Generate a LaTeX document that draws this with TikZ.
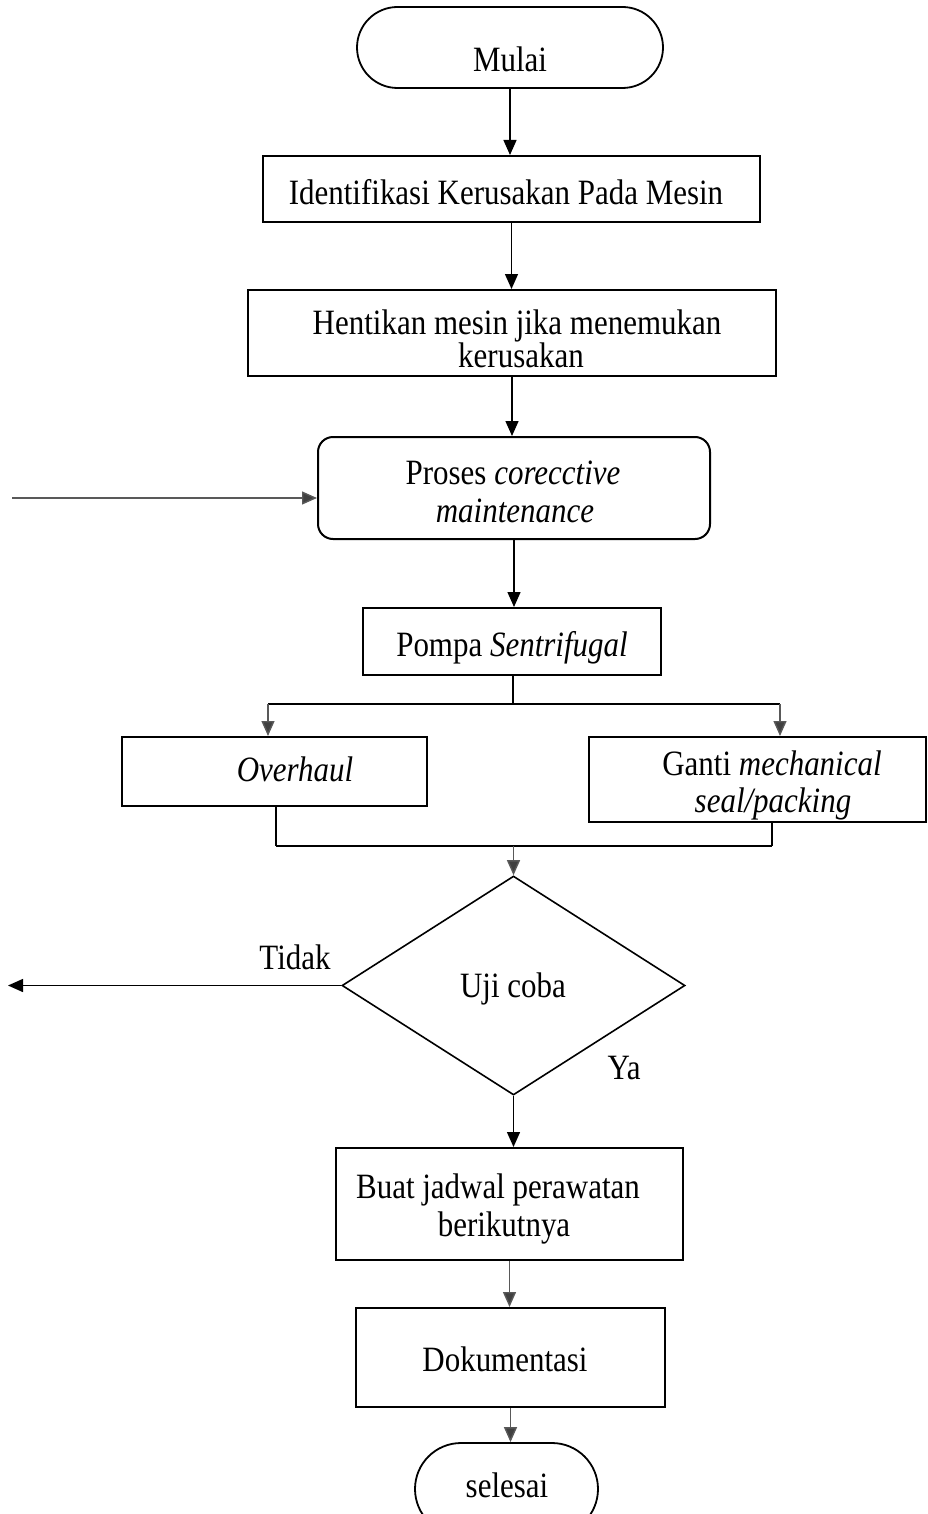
\documentclass[tikz,border=0pt]{standalone}
\usepackage{fontspec}
\setmainfont{Liberation Serif}[FakeStretch=0.87]
\usetikzlibrary{arrows.meta,shapes.geometric}
\begin{document}
\begin{tikzpicture}[x=1pt,y=-1pt,
  every node/.style={font=\fontsize{35.6}{38}\selectfont, inner sep=0pt},
  txt/.style={anchor=base},
  box/.style={draw, line width=2pt, rectangle},
  term/.style={draw, line width=1.8pt, rectangle},
  conn/.style={line width=1.4pt, -{Triangle[length=15pt,width=13pt]}},
  gconn/.style={conn, draw=black!65, -{Triangle[length=15pt,width=13pt,fill=black!75]}},
  bar/.style={line width=2.6pt},
  thin/.style={line width=1.2pt}]
\useasboundingbox (0,0) rectangle (928,1514);
\clip (0,0) rectangle (928,1514);

% shapes
\node[term, rounded corners=40.5pt, minimum width=306pt, minimum height=81pt] (mulai) at (510,47.5) {};
\node[box, minimum width=497pt, minimum height=66pt] (ident) at (511.5,189) {};
\node[box, minimum width=528pt, minimum height=86pt] (henti) at (512,333) {};
\node[box, rounded corners=15pt, minimum width=392pt, minimum height=102pt] (proses) at (514,488) {};
\node[box, minimum width=298pt, minimum height=67pt] (pompa) at (512,641.5) {};
\node[box, minimum width=305pt, minimum height=69pt] (over) at (274.5,771.5) {};
\node[box, minimum width=337pt, minimum height=85pt] (ganti) at (757.5,779.5) {};
\node[draw, line width=1.6pt, diamond, aspect=1.57, minimum width=343pt, minimum height=219pt] (uji) at (513.5,985.5) {};
\node[box, minimum width=347pt, minimum height=112pt] (buat) at (509.5,1204) {};
\node[box, minimum width=309pt, minimum height=99pt] (doku) at (510.5,1357.5) {};
\node[term, rounded corners=46pt, minimum width=183pt, minimum height=92pt] (selesai) at (506.5,1489) {};

% texts
\node[txt] (tmulai) at (510,72) {Mulai};
\node[txt] (tident) at (506,205) {Identifikasi Kerusakan Pada Mesin};
\node[txt] (thenti1) at (517,334) {Hentikan mesin jika menemukan};
\node[txt] (thenti2) at (521,367) {kerusakan};
\node[txt] (tproses1) at (513,484) {Proses \textit{corecctive}};
\node[txt] (tproses2) at (515,522) {\textit{maintenance}};
\node[txt] (tpompa) at (512,656) {Pompa \textit{Sentrifugal}};
\node[txt] (tover) at (295,781) {\textit{Overhaul}};
\node[txt] (tganti1) at (772,775) {Ganti \textit{mechanical}};
\node[txt] (tganti2) at (773,812) {\textit{seal/packing}};
\node[txt] (tuji) at (513,997) {Uji coba};
\node[txt] (tidak) at (295,969) {Tidak};
\node[txt] (ya) at (624,1079) {Ya};
\node[txt] (tbuat1) at (498,1198) {Buat jadwal perawatan};
\node[txt] (tbuat2) at (504,1236) {berikutnya};
\node[txt] (tdoku) at (505,1371) {Dokumentasi};
\node[txt] (tselesai) at (507,1497) {selesai};

% connectors
\draw[conn] (mulai.south) -- (mulai.south |- ident.north);
\draw[conn] (ident.south) -- (ident.south |- henti.north);
\draw[conn] (henti.south) -- (henti.south |- proses.north);
\draw[conn] (proses.south) -- (proses.south |- pompa.north);

\coordinate (loopin) at (12,498);
\draw[gconn] (loopin) -- (loopin -| proses.west);

% split to the two repair options
\coordinate (split) at (513,704);
\coordinate (splitL) at (268,704);
\coordinate (splitR) at (780,704);
\draw[thin] (split |- pompa.south) -- (split);
\draw[bar] (splitL) -- (splitR);
\draw[gconn] (splitL) -- (splitL |- over.north);
\draw[gconn] (splitR) -- (splitR |- ganti.north);

% merge into the test
\coordinate (mergeL) at (276,846);
\coordinate (mergeR) at (772,846);
\coordinate (merge) at (513.5,846);
\draw[thin] (mergeL |- over.south) -- (mergeL);
\draw[thin] (mergeR |- ganti.south) -- (mergeR);
\draw[bar] (mergeL) -- (mergeR);
\draw[gconn] (merge) -- (uji.north);

\coordinate (tidakend) at (8,985.5);
\draw[conn] (uji.west) -- (tidakend);
\draw[conn] (uji.south) -- (uji.south |- buat.north);
\draw[gconn] (buat.south) -- (buat.south |- doku.north);
\draw[gconn] (doku.south) -- (doku.south |- selesai.north);
\end{tikzpicture}
\end{document}
